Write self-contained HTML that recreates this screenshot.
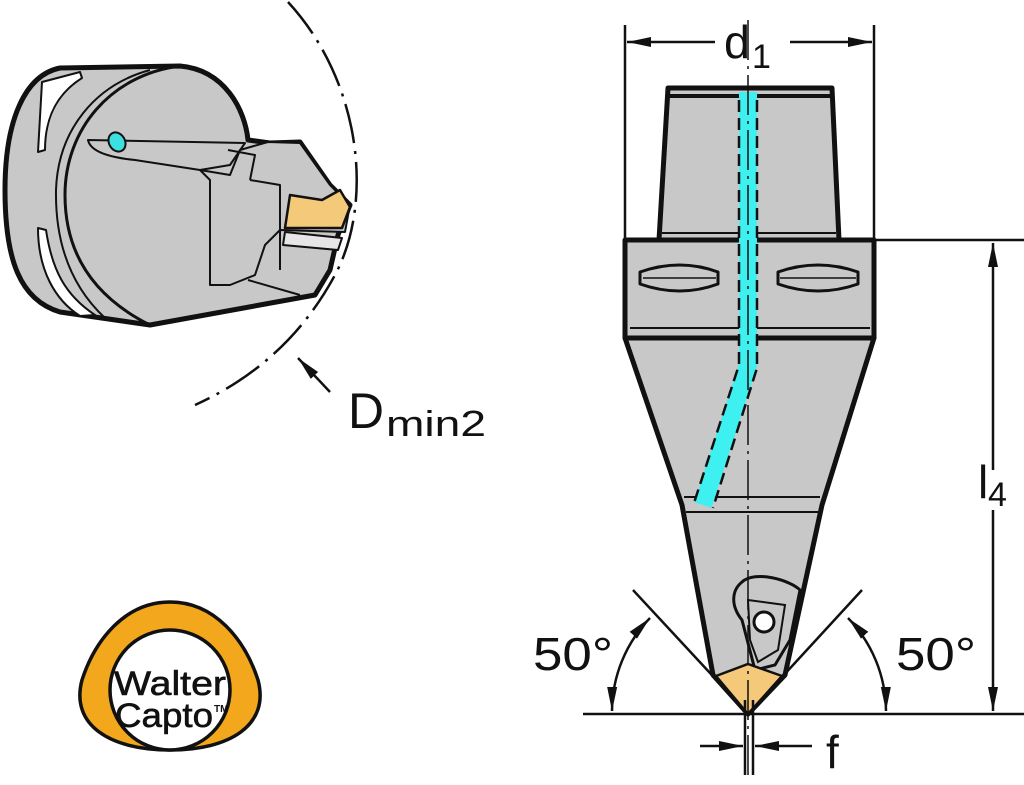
<!DOCTYPE html>
<html><head><meta charset="utf-8"><style>
html,body{margin:0;padding:0;background:#fff}
svg{display:block}
text{font-family:"Liberation Sans","DejaVu Sans",sans-serif;fill:#111}
</style></head><body>
<svg width="1024" height="785" viewBox="0 0 1024 785" xmlns="http://www.w3.org/2000/svg">
<defs>
<marker id="ar2" viewBox="0 0 24 12" refX="24" refY="6" markerWidth="24" markerHeight="12" orient="auto-start-reverse" markerUnits="userSpaceOnUse"><path d="M0,1 L24,6 L0,11 z" fill="#111"/></marker>
</defs>

<!-- ===== LEFT TOOL ===== -->
<g stroke="#111" stroke-linejoin="round" fill="#c8c8c8">
  <path d="M60,68 L180,66 C225,70 245,110 248,140 L270,143 L300,142 L330,185 L350,205 L338,235 L330,270 L315,295 L150,325 L60,312 C20,300 5,260 5,190 C5,120 25,75 60,68 Z" stroke-width="5"/>
  <path d="M180,66 C110,75 65,130 65,195 C65,260 100,300 150,325" fill="none" stroke-width="3"/>
  <path d="M150,70 C95,85 58,130 56,190 C55,250 75,290 105,318" fill="none" stroke-width="2"/>
  <path d="M42,82 L80,72 L82,78 C55,95 45,120 45,150 L38,152 Z" fill="#fff" stroke-width="2"/>
  <path d="M38,228 L46,230 C52,270 65,295 95,315 L80,316 C55,300 38,270 38,228 Z" fill="#fff" stroke-width="2"/>
  <path d="M88,140 L245,143 L230,165 L200,170 L135,160 C105,157 90,150 88,140 Z" stroke-width="2"/>
  <path d="M200,170 L230,175 L240,150 L268,142 L300,143 L330,185 L350,205 L345,232 L280,230 L265,245 L255,275 L230,285 L210,285 L210,180 Z" stroke-width="2"/>
  <path d="M248,280 L300,295" fill="none" stroke-width="2"/>
  <path d="M250,180 L280,185 L280,270" fill="none" stroke-width="2"/>
  <path d="M228,150 L255,155 L250,180" fill="none" stroke-width="2"/>
  <path d="M290,195 L322,200 L340,190 L350,207 L342,228 L285,228 Z" fill="#f5c97a" stroke-width="2.5"/>
  <path d="M285,232 L342,238 L338,250 L283,245 Z" fill="#e6e6e6" stroke-width="2"/>
</g>
<ellipse cx="117" cy="142" rx="8" ry="10" fill="#3de0e0" stroke="#111" stroke-width="2" transform="rotate(-30 117 142)"/>
<!-- Dmin2 arc -->
<path d="M288,2 C360,80 375,200 335,275 C300,340 250,380 195,405" fill="none" stroke="#111" stroke-width="2.5" stroke-dasharray="40,8,3,8"/>
<line x1="330" y1="392" x2="298" y2="358" stroke="#111" stroke-width="2.5" marker-end="url(#ar2)"/>
<text x="348" y="428" font-size="50" textLength="36" lengthAdjust="spacingAndGlyphs">D</text><text x="386" y="436" font-size="36" textLength="100" lengthAdjust="spacingAndGlyphs">min2</text>

<!-- ===== LOGO ===== -->
<path d="M170,602 C215,602 245,640 258,680 C270,725 230,750 170,750 C110,750 70,725 82,680 C95,640 125,602 170,602 Z" fill="#f3a71c" stroke="#111" stroke-width="3.5"/>
<circle cx="170" cy="690" r="60" fill="#fff" stroke="#111" stroke-width="3.5"/>
<text x="170" y="695" font-size="34" text-anchor="middle" textLength="112" lengthAdjust="spacingAndGlyphs" stroke="#111" stroke-width="0.6">Walter</text>
<text x="164" y="727" font-size="34" text-anchor="middle" textLength="98" lengthAdjust="spacingAndGlyphs" stroke="#111" stroke-width="0.6">Capto</text>
<text x="214" y="712" font-size="10" font-weight="bold">TM</text>

<!-- ===== RIGHT TOOL ===== -->
<g stroke="#111" stroke-linejoin="round" fill="#c8c8c8">
  <path d="M668,88 L832,88 L839,240 L659,240 Z" stroke-width="5"/>
  <rect x="625" y="240" width="249" height="98" stroke-width="5"/>
  <path d="M625,338 L874,338 L822,505 L785,675 L748,714 L713,675 L682,505 Z" stroke-width="5"/>
  <line x1="668" y1="96" x2="832" y2="96" stroke-width="4"/>
  <line x1="662" y1="233" x2="836" y2="233" stroke-width="2"/>
  <line x1="630" y1="328" x2="870" y2="328" stroke-width="2"/>
  <line x1="684" y1="497" x2="820" y2="497" stroke-width="2"/>
  <line x1="686" y1="512" x2="818" y2="512" stroke-width="2"/>
  <path d="M640,272 Q680,258 718,272 L718,284 Q680,298 640,284 Z" stroke-width="3"/>
  <path d="M778,272 Q818,258 858,272 L858,284 Q818,298 778,284 Z" stroke-width="3"/>
  <line x1="643" y1="278" x2="716" y2="278" stroke-width="1.5"/>
  <line x1="780" y1="278" x2="856" y2="278" stroke-width="1.5"/>
</g>
<!-- coolant -->
<path d="M748,92 L748,365 L703,505" fill="none" stroke="#3ff0f0" stroke-width="18"/>
<path d="M739,100 L739,365 L694,503" fill="none" stroke="#111" stroke-width="2.5" stroke-dasharray="12,6"/>
<path d="M757,100 L757,368 L713,508" fill="none" stroke="#111" stroke-width="2.5" stroke-dasharray="12,6"/>
<!-- insert / clamp -->
<g stroke="#111" fill="#c8c8c8">
  <path d="M742,582 C755,570 790,580 800,590 L790,640 L775,665 L755,670 L742,620 C730,605 732,590 742,582 Z" stroke-width="3"/>
  <path d="M748,600 L785,605 L778,650 L758,662 L750,640 Z" fill="none" stroke-width="2"/>
  <circle cx="764" cy="622" r="10" fill="#fff" stroke-width="3"/>
  <path d="M748,664 L782,676 L748,714 L716,676 Z" fill="#f5c97a" stroke-width="2.5"/>
</g>
<!-- centerline -->
<line x1="748" y1="20" x2="748" y2="775" stroke="#111" stroke-width="1.5" stroke-dasharray="40,6,3,6"/>

<!-- dims -->
<g stroke="#111" stroke-width="2.5">
  <line x1="625" y1="25" x2="625" y2="240"/>
  <line x1="874" y1="25" x2="874" y2="240"/>
  <line x1="715" y1="42" x2="627" y2="42" marker-end="url(#ar2)"/>
  <line x1="790" y1="42" x2="872" y2="42" marker-end="url(#ar2)"/>
  <line x1="874" y1="240" x2="1024" y2="240"/>
  <line x1="583" y1="714" x2="1024" y2="714"/>
  <line x1="993" y1="470" x2="993" y2="243" marker-end="url(#ar2)"/>
  <line x1="993" y1="510" x2="993" y2="711" marker-end="url(#ar2)"/>
  <line x1="633" y1="590" x2="748" y2="714"/>
  <line x1="862" y1="590" x2="748" y2="714"/>
  <line x1="745" y1="700" x2="745" y2="775"/>
  <line x1="753" y1="700" x2="753" y2="775"/>
  <line x1="700" y1="746" x2="743" y2="746" marker-end="url(#ar2)"/>
  <line x1="812" y1="746" x2="755" y2="746" marker-end="url(#ar2)"/>
  <path d="M650,618 A135,135 0 0 0 612,711" fill="none" marker-start="url(#ar2)" marker-end="url(#ar2)"/>
  <path d="M848,618 A135,135 0 0 1 886,711" fill="none" marker-start="url(#ar2)" marker-end="url(#ar2)"/>
</g>
<text x="724" y="58" font-size="46" textLength="26" lengthAdjust="spacingAndGlyphs">d</text><text x="752" y="68" font-size="34">1</text>
<text x="978" y="498" font-size="46">l</text><text x="988" y="506" font-size="34">4</text>
<text x="533" y="670" font-size="46" textLength="80" lengthAdjust="spacingAndGlyphs">50°</text>
<text x="896" y="670" font-size="46" textLength="80" lengthAdjust="spacingAndGlyphs">50°</text>
<text x="826" y="768" font-size="46">f</text>
</svg>
</body></html>
